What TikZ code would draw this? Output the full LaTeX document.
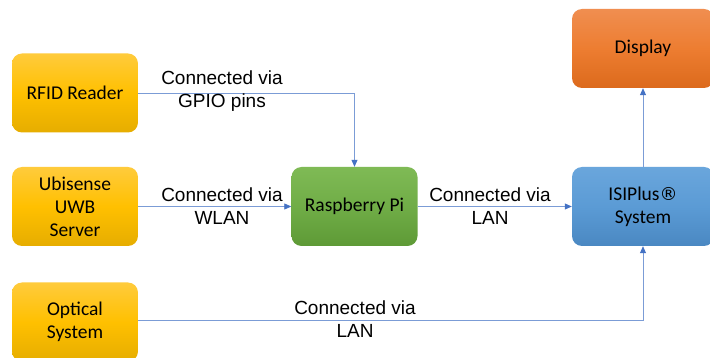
\documentclass[tikz,border=0pt]{standalone}
\usepackage{fontspec}
\setmainfont{Carlito}
\newfontfamily\lblfont{Liberation Sans}
\newfontfamily\regfont{DejaVu Sans}
\usetikzlibrary{arrows.meta}
\definecolor{goldT}{HTML}{FFCB3C}
\definecolor{goldM}{HTML}{FFC000}
\definecolor{goldB}{HTML}{E6AD00}
\definecolor{greenT}{HTML}{7FBA55}
\definecolor{greenM}{HTML}{70AD47}
\definecolor{greenB}{HTML}{5E9A36}
\definecolor{blueT}{HTML}{6AA6DC}
\definecolor{blueM}{HTML}{5B9BD5}
\definecolor{blueB}{HTML}{4A88C2}
\definecolor{orT}{HTML}{F08E50}
\definecolor{orM}{HTML}{ED7D31}
\definecolor{orB}{HTML}{DC6A1C}
\definecolor{linec}{HTML}{7B9CD6}
\definecolor{tipc}{HTML}{4472C4}
\tikzset{
  box/.style={rounded corners=10pt, minimum width=126pt, minimum height=79pt,
    inner sep=2pt, align=center, font=\fontsize{19.5}{23}\selectfont, text=black},
  gold/.style={box, top color=goldT, bottom color=goldB, middle color=goldM},
  green/.style={box, top color=greenT, bottom color=greenB, middle color=greenM},
  blue/.style={box, top color=blueT, bottom color=blueB, middle color=blueM},
  orange/.style={box, top color=orT, bottom color=orB, middle color=orM},
  conn/.style={draw=linec, line width=0.8pt, -{Triangle[length=7pt,width=6pt,fill=tipc,color=tipc]}},
  lbl/.style={align=center, font=\lblfont\fontsize{19}{23}\selectfont, inner sep=0pt}
}
\begin{document}
\begin{tikzpicture}[x=1pt,y=-1pt]
\useasboundingbox (0,0) rectangle (710,358);
\fill[white] (0,0) rectangle (710,358);
\node[gold] (rfid) at (75,93) {RFID Reader};
\node[gold] (ubi) at (75,206.5) {Ubisense\\UWB\\Server};
\node[gold] (opt) at (75,322) {Optical\\System};
\node[green] (pi) at (354.5,206.5) {Raspberry Pi};
\node[blue, minimum width=142pt] (isi) at (643,206.5) {ISIPlus{\regfont\fontsize{18}{23}\selectfont ®}\\System};
\node[orange, minimum width=142pt] (disp) at (643,48.5) {Display};
\coordinate (c1) at (pi.north |- rfid.east);
\coordinate (c2) at (isi.south |- 0,320);
\draw[conn] (rfid.east) -- (c1) -- (pi.north);
\draw[conn] (ubi.east) -- (pi.west);
\draw[conn] (pi.east) -- (isi.west);
\draw[conn] (isi.north) -- (disp.south);
\draw[conn] (opt.east |- c2) -- (c2) -- (isi.south);
\node[lbl] (l1) at (222,91.5) {Connected via\\GPIO pins};
\node[lbl] (l2) at (222,206) {Connected via\\WLAN};
\node[lbl] (l3) at (490,206) {Connected via\\LAN};
\node[lbl] (l4) at (355,319.5) {Connected via\\LAN};
\end{tikzpicture}
\end{document}
